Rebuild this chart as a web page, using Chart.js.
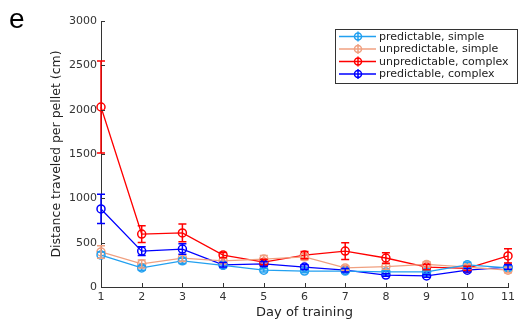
<!DOCTYPE html>
<html>
<head>
<meta charset="utf-8">
<script src="https://cdn.jsdelivr.net/npm/chart.js@4.4.0/dist/chart.umd.min.js"></script>
<style>
  html, body { margin: 0; padding: 0; background: #fff; }
  #wrap { width: 519px; height: 322px; position: relative; }
</style>
</head>
<body>
<div id="wrap"><canvas id="chart"></canvas></div>
<script>
const days = ['1', '2', '3', '4', '5', '6', '7', '8', '9', '10', '11'];
const yTicks = [0, 500, 1000, 1500, 2000, 2500, 3000];

const predSimple = [360, 215, 295, 245, 190, 180, 180, 170, 170, 250, 215];
const predSimpleErr = [35, 25, 30, 25, 20, 20, 20, 20, 20, 30, 25];
const unpredSimple = [395, 260, 325, 295, 315, 340, 215, 230, 255, 225, 190];
const unpredSimpleErr = [70, 45, 35, 30, 40, 35, 25, 30, 30, 30, 30];
const unpredComplex = [2030, 597, 610, 360, 280, 360, 405, 327, 225, 210, 350];
const unpredComplexErr = [520, 95, 100, 30, 30, 40, 95, 60, 30, 25, 80];
const predComplex = [880, 405, 428, 250, 260, 225, 190, 135, 125, 190, 225];
const predComplexErr = [165, 50, 60, 25, 25, 25, 20, 15, 15, 20, 25];

const names = ['predictable, simple', 'unpredictable, simple', 'unpredictable, complex', 'predictable, complex'];
const colors = ['#22a0f0', '#f0a080', '#ff0000', '#0000ff'];

const font = 'DejaVu Sans';

function makeSet(i, values, errs) {
    return {
        label: names[i],
        data: values,
        errors: errs,
        borderColor: colors[i],
        backgroundColor: 'rgba(0,0,0,0)',
        borderWidth: 1.3,
        pointRadius: 4,
        pointBorderWidth: 1.5,
        pointStyle: 'circle',
        pointBackgroundColor: 'rgba(0,0,0,0)',
        tension: 0
    };
}

// error bars, drawn through the scales
const errorBars = {
    id: 'errorBars',
    afterDatasetsDraw(chart) {
        const ctx = chart.ctx;
        const yScale = chart.scales.y;
        ctx.save();
        chart.data.datasets.forEach((ds, di) => {
            const meta = chart.getDatasetMeta(di);
            ctx.strokeStyle = ds.borderColor;
            ctx.lineWidth = 1.5;
            meta.data.forEach((pt, i) => {
                const e = ds.errors[i];
                const yTop = yScale.getPixelForValue(ds.data[i] + e);
                const yBot = yScale.getPixelForValue(Math.max(ds.data[i] - e, 0));
                ctx.beginPath();
                ctx.moveTo(pt.x, yTop);
                ctx.lineTo(pt.x, yBot);
                ctx.moveTo(pt.x - 4, yTop);
                ctx.lineTo(pt.x + 4, yTop);
                ctx.moveTo(pt.x - 4, yBot);
                ctx.lineTo(pt.x + 4, yBot);
                ctx.stroke();
            });
        });
        ctx.restore();
    }
};

// inward ticks, panel letter and the legend box
const decorations = {
    id: 'decorations',
    afterDraw(chart) {
        const ctx = chart.ctx;
        const area = chart.chartArea;
        const xs = chart.scales.x, ys = chart.scales.y;
        ctx.save();
        ctx.strokeStyle = '#333';
        ctx.lineWidth = 1;
        ys.ticks.forEach(t => {
            const y = Math.round(ys.getPixelForValue(t.value)) + 0.5;
            ctx.beginPath();
            ctx.moveTo(area.left, y);
            ctx.lineTo(area.left + 4, y);
            ctx.stroke();
        });
        xs.ticks.forEach((t, i) => {
            const x = Math.round(xs.getPixelForTick(i)) + 0.5;
            ctx.beginPath();
            ctx.moveTo(x, area.bottom);
            ctx.lineTo(x, area.bottom - 4);
            ctx.stroke();
        });

        ctx.fillStyle = '#000';
        ctx.font = '28px "Liberation Sans"';
        ctx.textBaseline = 'alphabetic';
        ctx.fillText('e', 9, 28);

        // legend
        const lx = 335, ly = 29, lw = 182, lh = 54;
        ctx.fillStyle = '#fff';
        ctx.fillRect(lx, ly, lw, lh);
        ctx.strokeStyle = '#333';
        ctx.strokeRect(lx + 0.5, ly + 0.5, lw, lh);
        ctx.font = '11px "' + font + '"';
        ctx.textBaseline = 'middle';
        names.forEach((n, i) => {
            const y = ly + 7.5 + i * 12.5;
            ctx.strokeStyle = colors[i];
            ctx.lineWidth = 1.3;
            ctx.beginPath();
            ctx.moveTo(lx + 4, y);
            ctx.lineTo(lx + 41, y);
            ctx.stroke();
            ctx.lineWidth = 1.5;
            ctx.beginPath();
            ctx.arc(lx + 23, y, 3.5, 0, Math.PI * 2);
            ctx.moveTo(lx + 23, y - 5);
            ctx.lineTo(lx + 23, y + 5);
            ctx.stroke();
            ctx.fillStyle = '#222';
            ctx.fillText(n, lx + 44, y + 0.5);
        });
        ctx.restore();
    }
};

new Chart(document.getElementById('chart'), {
    type: 'line',
    data: {
        labels: days,
        datasets: [
            makeSet(0, predSimple, predSimpleErr),
            makeSet(1, unpredSimple, unpredSimpleErr),
            makeSet(2, unpredComplex, unpredComplexErr),
            makeSet(3, predComplex, predComplexErr)
        ]
    },
    options: {
        responsive: true,
        maintainAspectRatio: false,
        animation: false,
        layout: { padding: { left: 0, right: 10, top: 21, bottom: 0 } },
        plugins: {
            legend: { display: false },
            tooltip: { enabled: false }
        },
        scales: {
            x: {
                offset: false,
                grid: { drawOnChartArea: false, drawTicks: false },
                border: { display: true, color: '#333', width: 1 },
                ticks: { color: '#333', font: { family: font, size: 11 }, padding: 4, maxRotation: 0 },
                title: { display: true, text: 'Day of training', color: '#222', font: { family: font, size: 13 }, padding: { top: 0, bottom: 2 } },
                afterFit: s => { s.height = 35; }
            },
            y: {
                min: 0,
                max: 3000,
                afterBuildTicks: s => { s.ticks = yTicks.map(v => ({ value: v })); },
                grid: { drawOnChartArea: false, drawTicks: false },
                border: { display: true, color: '#333', width: 1 },
                ticks: { color: '#333', font: { family: font, size: 11 }, padding: 4, callback: v => String(v) },
                title: { display: true, text: 'Distance traveled per pellet (cm)', color: '#222', font: { family: font, size: 12.5 }, padding: { top: 49, bottom: 0 } },
                afterFit: s => { s.width = 101; }
            }
        }
    },
    plugins: [errorBars, decorations]
});
</script>
</body>
</html>
